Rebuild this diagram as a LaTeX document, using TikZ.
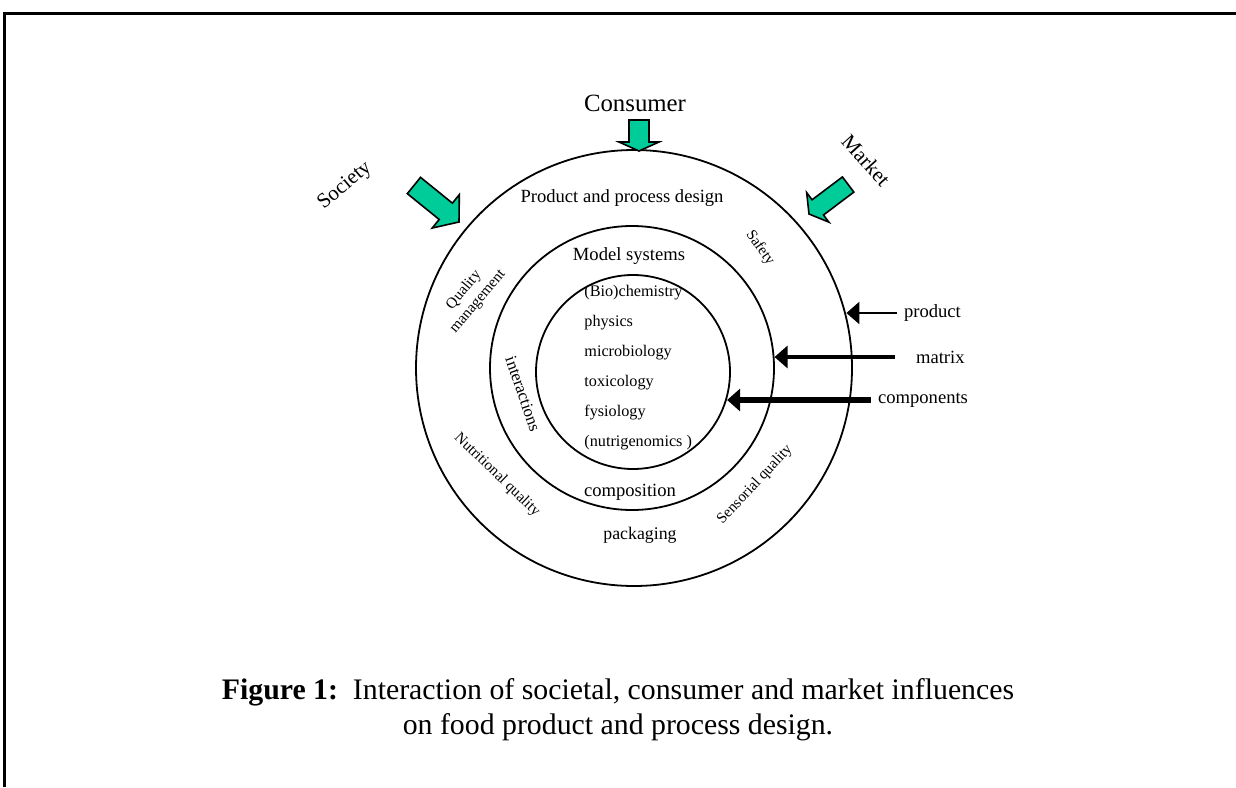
\documentclass[tikz,border=0pt]{standalone}
\usepackage{fontspec}
\setmainfont{Liberation Serif}
\usetikzlibrary{arrows.meta}
\definecolor{flowgreen}{HTML}{00CC99}

% tip, angle, length, head length, shaft half width, head half width
\newcommand\flowarrow[6]{%
  \draw[blockarrow, shift={#1}, rotate=#2] (0,0) -- (-#4,#6) -- (-#4,#5)
    -- (-#3,#5) -- (-#3,-#5) -- (-#4,-#5) -- (-#4,-#6) -- cycle;}

\begin{document}
\begin{tikzpicture}[
    x=0.5pt, y=-0.5pt,
    ring/.style={circle, draw, line width=0.9pt, minimum size=#1, inner sep=0pt},
    blockarrow/.style={draw, line width=0.8pt, fill=flowgreen, line join=miter},
    inarrow/.style={-{Triangle[length=6.5pt,width=11pt]}},
    bigtext/.style={font=\fontsize{12.4}{14}\selectfont},
    sidetext/.style={font=\fontsize{10.5}{12}\selectfont},
    ringtext/.style={font=\fontsize{9.3}{11}\selectfont},
    smalltext/.style={font=\fontsize{7.6}{9}\selectfont},
    listtext/.style={font=\fontsize{8.1}{10}\selectfont, anchor=base west, inner sep=0pt},
    captext/.style={font=\fontsize{14.9}{17.5}\selectfont, align=center}
]
\useasboundingbox (0,0) rectangle (1236,787);
\draw[line width=1.5pt] (4.5,787) -- (4.5,13.5) -- (1236,13.5);

\node[ring=218pt] (outer) at (634,368) {};
\node[ring=142pt] (middle) at (632,368) {};
\node[ring=97pt] (inner) at (633,372) {};

\node[bigtext] (consumer) at (635,103) {Consumer};
\node[sidetext, rotate=40] (society) at (345,186) {Society};
\node[sidetext, rotate=-48] (market) at (866,160) {Market};
\flowarrow{(639,151)}{-90}{31}{9}{10}{20}
\flowarrow{(459,222)}{-39}{58}{17}{10.5}{21.5}
\flowarrow{(809,214)}{-143}{49}{11}{9.5}{18.5}

\node[ringtext] (design) at (622,198) {Product and process design};
\node[ringtext] (model) at (629,256) {Model systems};
\node[ringtext] (composition) at (630,492) {composition};
\node[ringtext, font=\fontsize{8.9}{10}\selectfont] (packaging) at (640,535) {packaging};
\node[smalltext, rotate=-55] (safety) at (760,248) {Safety};
\node[smalltext, rotate=50, align=center] (quality) at (471,296) {Quality\\ management};
\node[smalltext, rotate=-44] (nutritional) at (497,475) {Nutritional quality};
\node[smalltext, rotate=47] (sensorial) at (755,485) {Sensorial quality};
\node[ringtext, font=\fontsize{8.4}{10}\selectfont, rotate=-71] (interactions) at (523,394) {interactions};

\foreach \topic [count=\i] in {{(Bio)chemistry}, physics, microbiology, toxicology, fysiology, {(nutrigenomics )}}
    \node[listtext] (topic\i) at (584, 266+30*\i) {\topic};

\node[ringtext, anchor=west] (product) at (897,313) {product};
\node[ringtext, anchor=west] (matrix) at (909,357) {matrix};
\node[ringtext, anchor=west] (components) at (871,400) {components};
\draw[inarrow, line width=1.2pt] (product.west) -- (outer.14.6 |- product.west);
\draw[inarrow, line width=2.4pt, shorten <=7pt] (matrix.west) -- (middle.4.4 |- matrix.west);
\draw[inarrow, line width=2.8pt] (components.west) -- (inner.-16.8 |- components.west);

\node[captext] (caption) at (618,710) {\textbf{Figure 1:}\enspace Interaction of societal, consumer and market influences\\ on food product and process design.};
\end{tikzpicture}
\end{document}
